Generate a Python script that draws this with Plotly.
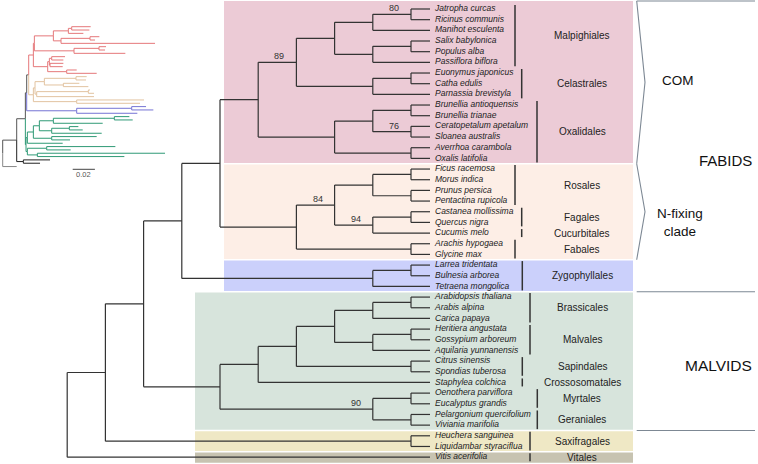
import plotly.graph_objects as go

# ---- main cladogram (topology + bootstrap support as node labels) ----
malpighiales = "(((Jatropha curcas,Ricinus communis)80,Manihot esculenta),((Salix babylonica,Populus alba),Passiflora biflora))"
celastrales = "((Euonymus japonicus,Catha edulis),Parnassia brevistyla)"
oxalidales = "(((Brunellia antioquensis,Brunellia trianae),(Ceratopetalum apetalum,Sloanea australis)76),(Averrhoa carambola,Oxalis latifolia))"
rosales = "((Ficus racemosa,Morus indica),(Prunus persica,Pentactina rupicola))"
fagales_cucurbitales = "((Castanea mollissima,Quercus nigra),Cucumis melo)"
fabales = "(Arachis hypogaea,Glycine max)"
zygophyllales = "((Larrea tridentata,Bulnesia arborea),Tetraena mongolica)"
brassicales = "((Arabidopsis thaliana,Arabis alpina),Carica papaya)"
malvales = "((Heritiera angustata,Gossypium arboreum),Aquilaria yunnanensis)"
sapindales = "(Citrus sinensis,Spondias tuberosa)"
myrtales_geraniales = "((Oenothera parviflora,Eucalyptus grandis),(Pelargonium quercifolium,Viviania marifolia))"
saxifragales = "(Heuchera sanguinea,Liquidambar styraciflua)"

com = f"(({malpighiales},{celastrales})89,{oxalidales})"
nfix = f"(({rosales},{fagales_cucurbitales}94)84,{fabales})"
malvids = f"(((({brassicales},{malvales}),{sapindales}),Staphylea colchica),{myrtales_geraniales}90)"
main_tree = f"((((({com},{nfix}),{zygophyllales}),{malvids}),{saxifragales}),Vitis acerifolia)"

order_names = ["Malpighiales", "Celastrales", "Oxalidales", "Rosales", "Fagales", "Cucurbitales",
               "Fabales", "Zygophyllales", "Brassicales", "Malvales", "Sapindales", "Crossosomatales",
               "Myrtales", "Geraniales", "Saxifragales", "Vitales"]
order_sizes = [6, 3, 6, 4, 2, 1, 2, 3, 3, 3, 2, 1, 2, 2, 2, 1]

group_names = ["COM", "N-fixing clade", "Zygophyllales", "MALVIDS", "Saxifragales", "Vitales"]
group_sizes = [15, 9, 3, 13, 2, 1]

# ---- inset phylogram (same leaf order, branch lengths in subst./site) ----
inset_malp = "(((Jcu:0.0171,Rco:0.0159):0.003,Mes:0.0135):0.0135,((Sba:0.0084,Pal:0.0045):0.0261,Pbi:0.0846):0.0069):0.0171"
inset_cel = "((Eja:0.0063,Ced:0.0054):0.0225,Pbr:0.0462):0.0357"
inset_oxal = "(((Ban:0.012,Btr:0.0105):0.0021,(Cap:0.012,Sau:0.0114):0.0006):0.0015,(Aca:0.009,Ola:0.027):0.0171):0.0129"
inset_com = f"(({inset_malp},{inset_cel}):0.0009,{inset_oxal}):0.0042"
inset_nfix = "((((Fra:0.0096,Min:0.009):0.0285,(Ppe:0.0144,Pru:0.0225):0.0171):0.0084,((Cmo:0.0015,Qni:0.0051):0.0465,Cme:0.0516):0.0015):0.0015,(Ahy:0.0606,Gma:0.057):0.039):0.0042"
inset_zygo = "((Ltr:0.0129,Bar:0.0195):0.0495,Tmo:0.0546):0.045"
inset_malvids = "((((((Ath:0.0135,Aal:0.0165):0.0549,Cpa:0.0444):0.0126,((Han:0.0081,Gar:0.012):0.0159,Ayu:0.045):0.0111):0.0054,(Csi:0.0405,Stu:0.0165):0.0165):0.0054,Sco:0.0318):0.0012,((Opa:0.0618,Egr:0.0216):0.0174,(Pqu:0.1149,Vma:0.0783):0.009):0.0012):0.0006"
inset_saxi = "(Hsa:0.024,Lst:0.015):0.006"
inset_tree = f"((((({inset_com},{inset_nfix}):0.0018,{inset_zygo}):0.0012,{inset_malvids}):0.0078,{inset_saxi}):0.0126,Vac:0.0126)"
scale_bar_value = 0.02

# ---- styling / layout constants ----
FONT = "Liberation Sans"
box_colors = ["#eccbd6", "#fdeee6", "#cbd0fb", "#d7e4dc", "#efe8c5", "#c7c3b1"]
box_left = [224, 224, 224, 195, 195, 195]
inset_colors = ["#e5787a", "#e2c3a0", "#7473d4", "#2f9a76", "#222222", "#888888"]
order_bar_x = [515, 521.7, 537, 515, 521.7, 521.7, 515, 522.3, 530, 530, 522.3, 522.3, 537.3, 537.3, 530, 530]
TIP_X, L9, STEP = 430, 411, 38.2
Y0, DY = 9, 10.67
IX0, ISCALE, IY0, IDY = 2.7, 1111, 26.7, 3.33


def parse_newick(text):
    text = text.strip().rstrip(";")
    pos = 0

    def read():
        nonlocal pos
        node = {"children": [], "name": "", "length": 0.0}
        if text[pos] == "(":
            pos += 1
            node["children"].append(read())
            while text[pos] == ",":
                pos += 1
                node["children"].append(read())
            pos += 1
        start = pos
        while pos < len(text) and text[pos] not in ",():":
            pos += 1
        node["name"] = text[start:pos].strip()
        if pos < len(text) and text[pos] == ":":
            pos += 1
            start = pos
            while pos < len(text) and text[pos] not in ",()":
                pos += 1
            node["length"] = float(text[start:pos])
        return node
    return read()


def leaves(node):
    if not node["children"]:
        return [node]
    out = []
    for c in node["children"]:
        out += leaves(c)
    return out


def layout_main(node, counter):
    if not node["children"]:
        node["i"] = counter[0]
        node["y"] = Y0 + counter[0] * DY
        node["x"] = TIP_X
        node["h"] = 0
        counter[0] += 1
        return
    for c in node["children"]:
        layout_main(c, counter)
    node["h"] = 1 + max(c["h"] for c in node["children"])
    node["x"] = L9 - (node["h"] - 1) * STEP
    node["y"] = (node["children"][0]["y"] + node["children"][-1]["y"]) / 2


def layout_inset(node, depth, counter):
    node["x"] = IX0 + depth * ISCALE
    if not node["children"]:
        node["i"] = counter[0]
        node["y"] = IY0 + counter[0] * IDY
        counter[0] += 1
        return
    for c in node["children"]:
        layout_inset(c, depth + c["length"], counter)
    node["y"] = (node["children"][0]["y"] + node["children"][-1]["y"]) / 2


def walk(node):
    yield node
    for c in node["children"]:
        yield from walk(c)


# group index of each leaf position
leaf_group = []
for g, n in enumerate(group_sizes):
    leaf_group += [g] * n

fig = go.Figure()
shapes, annotations = [], []

# coloured clade boxes
start = 0
for g, n in enumerate(group_sizes):
    top = Y0 + (start - 0.5) * DY + 0.8
    bottom = Y0 + (start + n - 0.5) * DY - 0.8
    if g == 0:
        top = 1
    if g == len(group_sizes) - 1:
        bottom = Y0 + (start + n - 1) * DY + 5.7
    shapes.append(dict(type="rect", x0=box_left[g], x1=633, y0=top, y1=bottom,
                       fillcolor=box_colors[g], line=dict(width=0), layer="below"))
    start += n

# main tree
tree = parse_newick(main_tree)
layout_main(tree, [0])
xs, ys = [], []
for node in walk(tree):
    ch = node["children"]
    if not ch:
        continue
    xs += [node["x"], node["x"], None]
    ys += [ch[0]["y"], ch[-1]["y"], None]
    for c in ch:
        xs += [node["x"], c["x"], None]
        ys += [c["y"], c["y"], None]
    if node["name"]:
        annotations.append(dict(x=node["x"] - 17, y=node["y"] - 6, text=node["name"], showarrow=False,
                                font=dict(family=FONT, size=9, color="#333333")))
fig.add_trace(go.Scatter(x=xs, y=ys, mode="lines", line=dict(color="#333333", width=1.2),
                         hoverinfo="skip"))

tips = leaves(tree)
fig.add_trace(go.Scatter(x=[TIP_X + 5] * len(tips), y=[t["y"] for t in tips],
                         text=[f"<i>{t['name']}</i>" for t in tips], mode="text",
                         textposition="middle right",
                         textfont=dict(family=FONT, size=8.5, color="#222222"), hoverinfo="skip"))

# order bars and labels
bx, by = [], []
start = 0
for k, n in enumerate(order_sizes):
    y_first = Y0 + start * DY
    y_last = Y0 + (start + n - 1) * DY
    bx += [order_bar_x[k], order_bar_x[k], None]
    by += [y_first - 4, y_last + 4, None]
    annotations.append(dict(x=582, y=(y_first + y_last) / 2, text=order_names[k], showarrow=False,
                            font=dict(family=FONT, size=10, color="#222222")))
    start += n
fig.add_trace(go.Scatter(x=bx, y=by, mode="lines", line=dict(color="#333333", width=1.5),
                         hoverinfo="skip"))

# right-hand brackets
edges = [1]
start = 0
for n in group_sizes:
    start += n
    edges.append(Y0 + (start - 0.5) * DY)
rx, ry = [], []
for g in (0, 1):
    y_top, y_bot = edges[g], edges[g + 1]
    rx += [636.7, 645, 636.7, None]
    ry += [y_top, (y_top + y_bot) / 2, y_bot, None]
for yl in (edges[0], edges[3], edges[4]):
    rx += [636.7, 755, None]
    ry += [yl, yl, None]
fig.add_trace(go.Scatter(x=rx, y=ry, mode="lines", line=dict(color="#7d8894", width=1.1),
                         hoverinfo="skip"))
annotations += [
    dict(x=678, y=80, text="COM", showarrow=False, font=dict(family=FONT, size=13.5, color="#111111")),
    dict(x=680, y=222, text="N-fixing<br>clade", showarrow=False,
         font=dict(family=FONT, size=13.5, color="#111111")),
    dict(x=725, y=160, text="FABIDS", showarrow=False, font=dict(family=FONT, size=15, color="#111111")),
    dict(x=718, y=365, text="MALVIDS", showarrow=False, font=dict(family=FONT, size=15.5, color="#111111")),
]

# inset phylogram
inset = parse_newick(inset_tree)
layout_inset(inset, 0.0, [0])
groups_of = {}
for node in walk(inset):
    groups_of[id(node)] = {leaf_group[t["i"]] for t in leaves(node)}
seg = {}
for node in walk(inset):
    for c in node["children"]:
        gs = groups_of[id(c)]
        color = inset_colors[gs.pop()] if len(gs) == 1 else "#555555"
        sx, sy = seg.setdefault(color, ([], []))
        sx += [node["x"], node["x"], c["x"], None]
        sy += [node["y"], c["y"], c["y"], None]
for color, (sx, sy) in seg.items():
    fig.add_trace(go.Scatter(x=sx, y=sy, mode="lines", line=dict(color=color, width=1),
                             hoverinfo="skip"))
bar_x0 = 72.7
fig.add_trace(go.Scatter(x=[bar_x0, bar_x0 + scale_bar_value * ISCALE], y=[169.3, 169.3], mode="lines",
                         line=dict(color="#444444", width=1), hoverinfo="skip"))
annotations.append(dict(x=bar_x0 + scale_bar_value * ISCALE / 2, y=174, text=str(scale_bar_value),
                        showarrow=False, font=dict(family=FONT, size=7.5, color="#555555")))

fig.update_layout(
    width=758, height=464, margin=dict(l=0, r=0, t=0, b=0),
    paper_bgcolor="white", plot_bgcolor="white", showlegend=False,
    xaxis=dict(range=[0, 758], visible=False, fixedrange=True),
    yaxis=dict(range=[464, 0], visible=False, fixedrange=True),
    shapes=shapes, annotations=annotations,
)
fig.write_html("out.html", config={"staticPlot": True},
               post_script="document.body.style.margin='0';")
